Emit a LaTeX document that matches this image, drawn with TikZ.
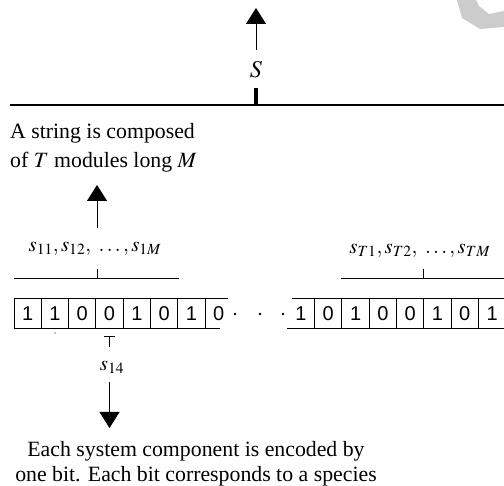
\documentclass[tikz,border=0pt]{standalone}
\usepackage{mathptmx}
\usepackage{fontspec}
\setmainfont{Liberation Serif}
\newfontfamily\digitfont{Liberation Sans}
\usetikzlibrary{arrows.meta}
\tikzset{
  txt/.style={inner sep=0pt, font=\fontsize{21.8}{29}\selectfont},
  lbl/.style={inner sep=0pt, font=\fontsize{21}{25}\selectfont},
  btxt/.style={inner sep=0pt, font=\fontsize{21.8}{25}\selectfont},
  bit/.style={minimum width=27.3pt, minimum height=30pt, inner sep=0pt, font=\digitfont\fontsize{20}{20}\selectfont},
  arr/.style={line width=1pt, -{Triangle[width=20pt,length=16pt]}},
  rule/.style={line width=1pt},
  dotmark/.style={fill=black, draw=none},
}
\begin{document}
\begin{tikzpicture}[x=1pt,y=-1pt]
\useasboundingbox (0,0) rectangle (504,486);
% faint watermark corner
\fill[black!20] (457,0) -- (462,18) -- (480,29) -- (504,27) -- (504,11) -- (489,14) -- (479,6) -- (476,0) -- cycle;

% ---- top: S ----
\draw[line width=2pt] (10,105) -- (504,105);
\coordinate (Stick) at (256,105);
\draw[line width=3.5pt] (256,88) -- (Stick);
\node[inner sep=0pt, font=\fontsize{24}{24}\selectfont, anchor=base] (S) at (256,78) {$S$};
\coordinate (Sbase) at (256,50);
\coordinate (Stip) at (256,8);
\draw[arr] (Sbase) -- (Stip);

% ---- left description ----
\node[txt, anchor=base west, align=left] (desc) at (10,168)
  {A string is composed\\of $T$ modules long $M$};

% ---- left module bracket ----
\draw[rule] (14,279) -- (179,279);
\coordinate (Lt) at (97,279);
\draw[rule] (97,269) -- (Lt);
\node[lbl] (s1) at (95,249) {$s_{11}, s_{12},\ \ldots, s_{1M}$};
\coordinate (Lbase) at (97,228);
\coordinate (Ltip) at (97,185);
\draw[arr] (Lbase) -- (Ltip);

% ---- right module bracket ----
\draw[rule] (341,279) -- (504,279);
\coordinate (Rt) at (423,279);
\draw[rule] (423,269) -- (Rt);
\node[lbl] (sT) at (420,251) {$s_{T1}, s_{T2},\ \ldots, s_{TM}$};

% ---- left bit row ----
\draw[rule] (14,299) -- (228,299);
\draw[rule] (14,329) -- (220,329);
\foreach \k in {0,...,7} {
  \draw[rule] ({14+27.3*\k},299) -- ({14+27.3*\k},329);
}
\foreach \b [count=\i] in {1,1,0,0,1,0,1,0} {
  \node[bit] (b\i) at ({14+27.3*(\i-0.5)},314) {\b};
}
% ellipsis dots
\fill[dotmark] (235,314) circle (1.3);
\fill[dotmark] (260,314) circle (1.3);
\fill[dotmark] (283,314) circle (1.3);
% stray mark
\fill[dotmark] (55,333) circle (0.6);

% ---- right bit row ----
\draw[rule] (292,299) -- (504,299);
\draw[rule] (287,329) -- (504,329);
\foreach \k in {0,...,6} {
  \draw[rule] ({314.5+27.3*\k},299) -- ({314.5+27.3*\k},329);
}
\foreach \b [count=\i] in {1,0,1,0,0,1,0,1} {
  \node[bit] (c\i) at ({301+27.3*(\i-1)},314) {\b};
}

% ---- s14 marker ----
\draw[rule] (104,337) -- (115,337);
\coordinate (Tm) at (109.5,337);
\draw[rule] (Tm) -- (109.5,347);
\node[lbl] (s14) at (112,367) {$s_{14}$};
\coordinate (Dbase) at (109.5,382);
\coordinate (Dtip) at (109.5,428);
\draw[arr] (Dbase) -- (Dtip);

% ---- bottom description ----
\node[btxt, anchor=base, align=center] (bottom) at (196,482)
  {Each system component is encoded by\\one bit. Each bit corresponds to a species};
\end{tikzpicture}
\end{document}
